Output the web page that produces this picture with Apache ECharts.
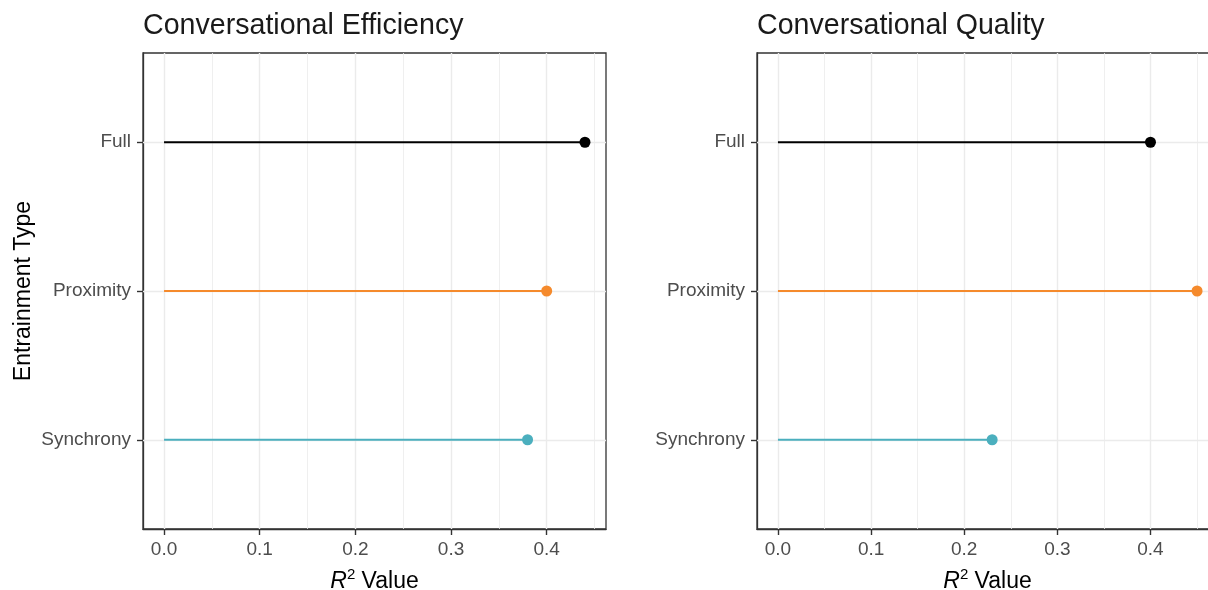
<!DOCTYPE html>
<html lang="en">
<head>
    <title>Entrainment R2</title>
    <meta charset="utf-8">
    <script src="https://cdn.jsdelivr.net/npm/echarts@6/dist/echarts.min.js"></script>
    <style>
        html, body { margin: 0; padding: 0; background: #fff; }
        #main { width: 1208px; height: 590px; }
    </style>
</head>
<body>
<div id="main"></div>
<script type="text/javascript">
    // categories bottom -> top (value axis positions 1,2,3)
    var categories = ['Synchrony', 'Proximity', 'Full'];
    var catColors = ['#4bafbe', '#f58a2c', '#000000'];

    var efficiencyValues = [0.38, 0.40, 0.44];
    var qualityValues = [0.23, 0.45, 0.40];

    var panelTitles = ['Conversational Efficiency', 'Conversational Quality'];
    var xMajorTicks = [0, 0.1, 0.2, 0.3, 0.4];
    var xMinorTicks = [0.05, 0.15, 0.25, 0.35, 0.45];
    var catPositions = [1, 2, 3];

    var font = 'Liberation Sans, Arial, sans-serif';

    function lollipopData(values) {
        var out = [];
        for (var i = 0; i < values.length; i++) {
            out.push([values[i], catPositions[i], i]);
        }
        return out;
    }

    function renderLollipop(params, api) {
        var v = api.value(0), y = api.value(1), c = api.value(2);
        var p0 = api.coord([0, y]);
        var p1 = api.coord([v, y]);
        return {
            type: 'group',
            children: [
                {type: 'line', shape: {x1: p0[0], y1: p0[1], x2: p1[0], y2: p1[1]},
                    style: {stroke: catColors[c], lineWidth: 2}},
                {type: 'circle', shape: {cx: p1[0], cy: p1[1], r: 5.5},
                    style: {fill: catColors[c]}}
            ]
        };
    }

    function gridLines(idx) {
        var lines = [];
        xMinorTicks.forEach(function (v) { lines.push({xAxis: v, lineStyle: {width: 0.8}}); });
        xMajorTicks.forEach(function (v) { lines.push({xAxis: v, lineStyle: {width: 1.4}}); });
        catPositions.forEach(function (v) { lines.push({yAxis: v, lineStyle: {width: 1.4}}); });
        return {
            type: 'line', xAxisIndex: idx, yAxisIndex: idx, data: [], z: 1,
            markLine: {
                silent: true, symbol: 'none', z: 1, animation: false,
                label: {show: false},
                lineStyle: {color: '#ebebeb', type: 'solid'},
                data: lines
            }
        };
    }

    function xAxisFor(idx, min, max) {
        return {
            type: 'value', gridIndex: idx, min: min, max: max,
            axisLine: {show: true, onZero: false, lineStyle: {color: '#333', width: 1.3}},
            axisTick: {show: true, length: 6, customValues: xMajorTicks, lineStyle: {color: '#333', width: 1.4}},
            axisLabel: {customValues: xMajorTicks, color: '#4d4d4d', fontSize: 19, fontFamily: font, margin: 11,
                formatter: function (v) { return v.toFixed(1); }},
            splitLine: {show: false},
            name: '{i|R}{s|2} Value',
            nameLocation: 'middle',
            nameGap: 38,
            nameTextStyle: {
                color: '#000', fontSize: 23, fontFamily: font,
                rich: {
                    i: {fontStyle: 'italic', fontSize: 23, fontFamily: font, color: '#000'},
                    s: {fontSize: 15, fontFamily: font, color: '#000', padding: [0, 0, 14, 0]}
                }
            }
        };
    }

    function yAxisFor(idx, showName) {
        return {
            type: 'value', gridIndex: idx, min: 0.4, max: 3.6,
            axisLine: {show: true, onZero: false, lineStyle: {color: '#333', width: 1.3}},
            axisTick: {show: true, length: 6, customValues: catPositions, lineStyle: {color: '#333', width: 1.4}},
            axisLabel: {customValues: catPositions, color: '#4d4d4d', fontSize: 19, fontFamily: font, margin: 12,
                formatter: function (v) { return categories[Math.round(v) - 1]; }},
            splitLine: {show: false},
            name: showName ? 'Entrainment Type' : '',
            nameLocation: 'middle',
            nameGap: 108,
            nameRotate: 90,
            nameTextStyle: {color: '#000', fontSize: 23, fontFamily: font}
        };
    }

    var chart = echarts.init(document.getElementById('main'));
    var option = {
        animation: false,
        backgroundColor: '#fff',
        title: [
            {text: panelTitles[0], left: 138, top: 7, textStyle: {fontSize: 28.6, fontWeight: 'normal', color: '#1a1a1a', fontFamily: font}},
            {text: panelTitles[1], left: 752, top: 7, textStyle: {fontSize: 28.6, fontWeight: 'normal', color: '#1a1a1a', fontFamily: font}}
        ],
        grid: [
            {left: 143, top: 53, width: 463, height: 476, outerBoundsMode: 'none', containLabel: false,
                show: true, borderColor: '#333', borderWidth: 1.3, backgroundColor: '#fff'},
            {left: 757, top: 53, width: 461, height: 476, outerBoundsMode: 'none', containLabel: false,
                show: true, borderColor: '#333', borderWidth: 1.3, backgroundColor: '#fff'}
        ],
        xAxis: [xAxisFor(0, -0.022, 0.462), xAxisFor(1, -0.0225, 0.4725)],
        yAxis: [yAxisFor(0, true), yAxisFor(1, false)],
        series: [
            gridLines(0),
            gridLines(1),
            {type: 'custom', xAxisIndex: 0, yAxisIndex: 0, z: 3, renderItem: renderLollipop,
                data: lollipopData(efficiencyValues), clip: false},
            {type: 'custom', xAxisIndex: 1, yAxisIndex: 1, z: 3, renderItem: renderLollipop,
                data: lollipopData(qualityValues), clip: false}
        ]
    };
    chart.setOption(option);
</script>
</body>
</html>
